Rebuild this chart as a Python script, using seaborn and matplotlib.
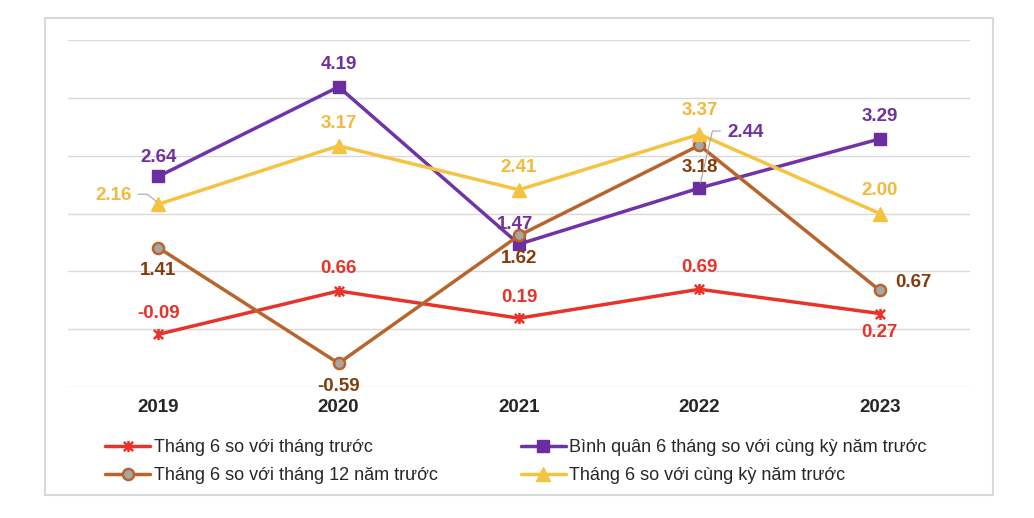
import pandas as pd
import numpy as np
import matplotlib.pyplot as plt
import seaborn as sns
from matplotlib.patches import Rectangle
from matplotlib.path import Path
from matplotlib.lines import Line2D
from matplotlib.transforms import IdentityTransform

years = ['2019', '2020', '2021', '2022', '2023']
thang_truoc = [-0.09, 0.66, 0.19, 0.69, 0.27]
binh_quan = [2.64, 4.19, 1.47, 2.44, 3.29]
thang_12 = [1.41, -0.59, 1.62, 3.18, 0.67]
cung_ky = [2.16, 3.17, 2.41, 3.37, 2.00]

names = ['Tháng 6 so với tháng trước',
         'Bình quân 6 tháng so với cùng kỳ năm trước',
         'Tháng 6 so với tháng 12 năm trước',
         'Tháng 6 so với cùng kỳ năm trước']

sns.set_style('white')
plt.rcParams['font.family'] = ['Liberation Sans', 'DejaVu Sans']

fig = plt.figure(figsize=(10.34, 5.18), dpi=100)
ax = fig.add_axes([68 / 1034, 131 / 518, 902 / 1034, 347 / 518])

x = np.arange(len(years))

red = '#E8332A'
purple = '#7034A8'
brown = '#B8652D'
yellow = '#F5C342'

# excel-like star: an x with a vertical bar
star = Path([(-1, -1), (1, 1), (-1, 1), (1, -1), (0, -1.2), (0, 1.2)],
            [Path.MOVETO, Path.LINETO, Path.MOVETO, Path.LINETO, Path.MOVETO, Path.LINETO])

styles = [
    dict(data=thang_truoc, color=red, marker=star, ms=8, mfc=red, mec=red, mew=1.8),
    dict(data=binh_quan, color=purple, marker='s', ms=8.5, mfc='#6A2E9E', mec='#6A2E9E', mew=1),
    dict(data=thang_12, color=brown, marker='o', ms=8, mfc='#A6A6A6', mec=brown, mew=1.8),
    dict(data=cung_ky, color=yellow, marker='^', ms=10, mfc=yellow, mec=yellow, mew=1),
]

handles = []
for name, s in zip(names, styles):
    sns.lineplot(x=x, y=s['data'], ax=ax, color=s['color'], linewidth=2.5,
                 marker=s['marker'], markersize=s['ms'], markerfacecolor=s['mfc'],
                 markeredgecolor=s['mec'], markeredgewidth=s['mew'], label=name, legend=False)
    handles.append(ax.lines[-1])

# label offsets in points (dx, dy)
offsets = {
    0: [(0, 15), (0, 16), (0, 15), (0, 16), (0, -14)],
    1: [(0, 14), (0, 16), (-3, 14.5), (33, 40), (0, 16)],
    2: [(0, -16.5), (0, -17), (0, -16.5), (0, -16), (24.5, 6)],
    3: [(-32, 6.5), (0, 16), (0, 16), (0, 17), (0, 16.5)],
}
label_colors = [red, '#7030A0', '#843C0C', '#F3B93B']
for i, s in enumerate(styles):
    for j, v in enumerate(s['data']):
        dx, dy = offsets[i][j]
        ax.annotate(f'{v:.2f}', (x[j], v), xytext=(dx, dy), textcoords='offset points',
                    ha='center', va='center', fontsize=13.5, fontweight='bold',
                    color=label_colors[i])

ax.set_xlim(-0.5, 4.5)
ax.set_ylim(-1, 5)
ax.set_yticks(np.arange(-1, 6, 1))
ax.set_yticklabels([])
ax.set_xticks(x)
ax.set_xticklabels(years, fontsize=13.5, fontweight='bold')
ax.tick_params(axis='both', length=0, pad=9)
ax.grid(axis='y', color='#D9D9D9', linewidth=1)
ax.set_axisbelow(True)
for sp in ax.spines.values():
    sp.set_visible(False)
ax.set_xlabel('')
ax.set_ylabel('')

# leader lines (pixel offsets from the point, y up)
def leader(xi, v, pts):
    px, py = ax.transData.transform((xi, v))
    xs = [px + a for a, b in pts]
    ys = [py + b for a, b in pts]
    fig.add_artist(Line2D(xs, ys, transform=IdentityTransform(), color='#A6A6A6', lw=0.8))

leader(x[0], cung_ky[0], [(-2, 3), (-11, 10), (-20, 10)])
leader(x[3], binh_quan[3], [(1, 5), (13, 57), (21, 57)])

order = [0, 2, 1, 3]
fig.legend([handles[k] for k in order], [names[k] for k in order], ncol=2,
           loc='upper left', bbox_to_anchor=(96 / 1034, 1 - 430 / 518), frameon=False,
           fontsize=13, handlelength=2.5, handletextpad=0.2, columnspacing=4.6,
           labelspacing=0.6, borderpad=0)

fig.patches.append(Rectangle((45 / 1034, 23 / 518), 948 / 1034, 477 / 518,
                             transform=fig.transFigure, fill=False,
                             edgecolor='#D9D9D9', linewidth=1.5))

fig.savefig('out.png', dpi=100)
